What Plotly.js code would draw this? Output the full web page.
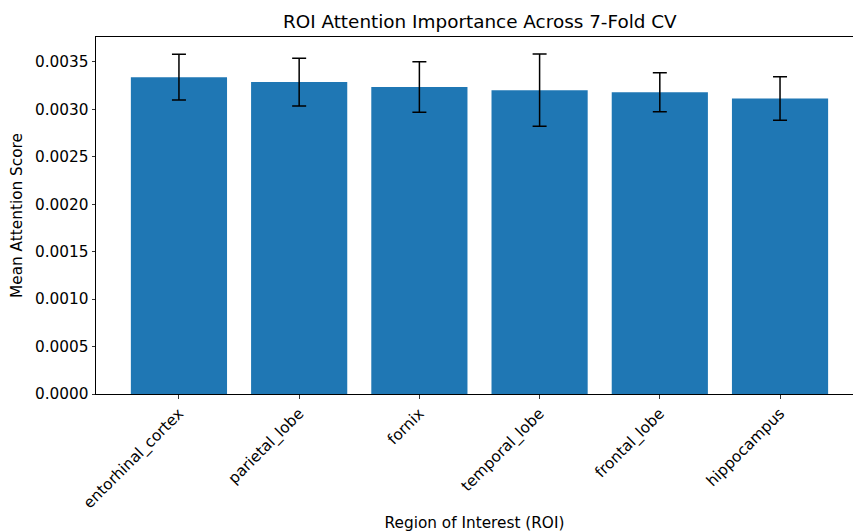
<!DOCTYPE html>
<html>
<head>
<meta charset="utf-8">
<script src="https://cdn.plot.ly/plotly-3.0.1.min.js"></script>
<style>html,body{margin:0;padding:0;background:#fff;}#chart{width:853px;height:532px;}</style>
</head>
<body>
<div id="chart"></div>
<script>
var regions = ["entorhinal_cortex", "parietal_lobe", "fornix", "temporal_lobe", "frontal_lobe", "hippocampus"];
var meanScores = [0.003340, 0.003288, 0.003235, 0.003203, 0.003180, 0.003115];
var stdScores = [0.000240, 0.000252, 0.000266, 0.000380, 0.000205, 0.000230];
var yTicks = [0, 0.0005, 0.0010, 0.0015, 0.0020, 0.0025, 0.0030, 0.0035];
var yTickLabels = ["0.0000", "0.0005", "0.0010", "0.0015", "0.0020", "0.0025", "0.0030", "0.0035"];

var font = "DejaVu Sans, sans-serif";
var trace = {
  type: "bar",
  x: regions,
  y: meanScores,
  marker: {color: "#1f77b4"},
  error_y: {type: "data", array: stdScores, visible: true, color: "#000000", thickness: 1.5, width: 7},
  hoverinfo: "x+y"
};
var layout = {
  width: 853, height: 532,
  margin: {l: 96, r: 0, t: 37, b: 138, pad: 0},
  paper_bgcolor: "#fff", plot_bgcolor: "#fff",
  showlegend: false,
  bargap: 0.2,
  title: {text: "ROI Attention Importance Across 7-Fold CV", font: {family: font, size: 18.4, color: "#000"},
          x: 0.507, xanchor: "center", xref: "paper", y: 1 - 22/532, yanchor: "middle", yref: "container"},
  xaxis: {
    type: "category", range: [-0.69, 5.607], automargin: false,
    showline: true, linecolor: "#000", linewidth: 1, mirror: true,
    ticks: "outside", ticklen: 3.5, tickwidth: 0.8, tickcolor: "#000",
    tickangle: -45, tickfont: {family: font, size: 15.3, color: "#000"},
    showgrid: false, zeroline: false,
    title: {text: "Region of Interest (ROI)", font: {family: font, size: 15.3, color: "#000"}, standoff: 12}
  },
  yaxis: {
    range: [0, 0.003763], automargin: false,
    tickvals: yTicks, ticktext: yTickLabels,
    showline: true, linecolor: "#000", linewidth: 1, mirror: false,
    ticks: "outside", ticklen: 3.5, tickwidth: 0.8, tickcolor: "#000",
    tickfont: {family: font, size: 15.3, color: "#000"},
    showgrid: false, zeroline: false,
    title: {text: "Mean Attention Score", font: {family: font, size: 15.3, color: "#000"}, standoff: 8}
  }
};
Plotly.newPlot("chart", [trace], layout, {displayModeBar: false, staticPlot: true});
</script>
</body>
</html>
